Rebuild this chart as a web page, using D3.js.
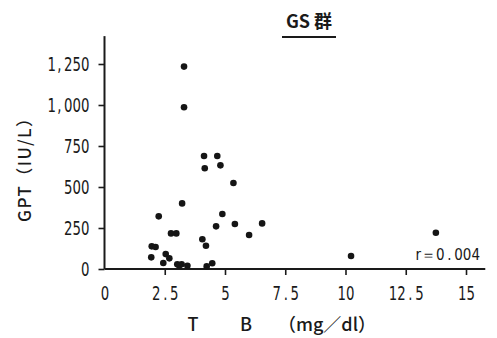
<!DOCTYPE html>
<html>
<head>
<meta charset="utf-8">
<script src="https://cdn.jsdelivr.net/npm/d3@7"></script>
<style>
  body { margin: 0; background: #fff; }
  text { fill: #1a1a1a; }
</style>
</head>
<body>
<div id="chart"></div>
<script>
// values
var tb  = [3.30, 3.30, 4.13, 4.68, 4.16, 4.81, 5.35, 3.22, 2.25, 4.89, 4.63, 5.41, 6.54,
           2.76, 2.98, 6.00, 4.06, 4.21, 1.96, 2.12, 2.54, 2.69, 1.94, 2.44, 3.02, 3.20,
           3.44, 3.10, 4.24, 4.47, 10.23, 13.75];
var gpt = [1234, 986, 689, 689, 614, 632, 524, 400, 321, 335, 260, 274, 278,
           217, 217, 207, 181, 142, 138, 134, 91, 65, 71, 37, 29, 29,
           20, 22, 16, 35, 79, 221];
var xTicks = [0, 2.5, 5, 7.5, 10, 12.5, 15];
var yTicks = [0, 250, 500, 750, 1000, 1250];

var def = { width: 497, height: 338, x0: 104.5, x1: 466, y0: 269, y1: 64, squeeze: 0.74 };
var numFont = '"DejaVu Sans Condensed", "DejaVu Sans", sans-serif';
var jpFont = '"Noto Sans CJK JP", sans-serif';

var svg = d3.select('#chart').append('svg')
    .attr('width', def.width)
    .attr('height', def.height);

var x = d3.scaleLinear().domain([0, 15]).range([def.x0, def.x1]);
var y = d3.scaleLinear().domain([0, 1250]).range([def.y0, def.y1]);

// axes
var xAx = d3.axisBottom(x).tickValues(xTicks).tickSize(6).tickSizeOuter(0)
    .tickFormat(function(d){ return String(d).replace('.', '\u2009.\u2009'); });
var yAx = d3.axisLeft(y).tickValues(yTicks).tickSize(6).tickSizeOuter(0)
    .tickFormat(function(d){ return d3.format(',')(d).replace(',', '\u200a,\u2009'); });

var gx = svg.append('g').attr('transform', 'translate(0,' + def.y0 + ')').call(xAx);
var gy = svg.append('g').attr('transform', 'translate(' + def.x0 + ',0)').call(yAx);

gx.select('.domain').remove();
gy.select('.domain').remove();
gx.selectAll('.tick').filter(function(d){ return d === 0; }).select('line').remove();

svg.selectAll('.tick line').attr('stroke', '#1a1a1a').attr('stroke-width', 1.6);
// tall narrow digits: condensed font squeezed sideways
gx.selectAll('.tick text')
    .attr('y', 17)
    .attr('font-family', numFont)
    .attr('font-size', 20)
    .attr('transform', 'scale(' + def.squeeze + ',1)')
    .attr('fill', '#1a1a1a');
gy.selectAll('.tick text')
    .attr('x', -15 / def.squeeze)
    .attr('font-family', numFont)
    .attr('font-size', 20)
    .attr('transform', 'scale(' + def.squeeze + ',1)')
    .attr('fill', '#1a1a1a');

// axis lines, a bit past the last tick like the original
svg.append('line')
    .attr('x1', def.x0).attr('x2', x(15.8))
    .attr('y1', def.y0).attr('y2', def.y0)
    .attr('stroke', '#1a1a1a').attr('stroke-width', 2);
svg.append('line')
    .attr('x1', def.x0).attr('x2', def.x0)
    .attr('y1', def.y0).attr('y2', y(1420))
    .attr('stroke', '#1a1a1a').attr('stroke-width', 2);

// points
svg.append('g').selectAll('circle')
    .data(tb)
    .enter().append('circle')
    .attr('cx', function(d){ return x(d); })
    .attr('cy', function(d, i){ return y(gpt[i]); })
    .attr('r', 3.3)
    .attr('fill', '#151515');

// title
svg.append('text')
    .attr('x', 309).attr('y', 28)
    .attr('text-anchor', 'middle')
    .attr('font-family', jpFont)
    .attr('font-weight', 700)
    .attr('font-size', 18)
    .text('GS 群');
svg.append('line')
    .attr('x1', 282).attr('x2', 336)
    .attr('y1', 37).attr('y2', 37)
    .attr('stroke', '#1a1a1a').attr('stroke-width', 2);

// y label
svg.append('text')
    .attr('transform', 'translate(31,166) rotate(-90)')
    .attr('text-anchor', 'middle')
    .attr('font-family', jpFont)
    .attr('font-weight', 500)
    .attr('font-size', 17)
    .attr('textLength', 112)
    .text('GPT（IU/L）');

// x label, pieces placed like the original spacing
var xl = [['T', 193], ['B', 246], ['（mg／dl）', 327]];
svg.append('g').selectAll('text')
    .data(xl)
    .enter().append('text')
    .attr('x', function(d){ return d[1]; })
    .attr('y', 331)
    .attr('text-anchor', 'middle')
    .attr('font-family', jpFont)
    .attr('font-weight', 500)
    .attr('font-size', 18)
    .text(function(d){ return d[0]; });

// correlation note
svg.append('text')
    .attr('x', 480).attr('y', 260)
    .attr('text-anchor', 'end')
    .attr('font-family', numFont)
    .attr('font-size', 15)
    .text('r＝0\u2009.\u2009004');
</script>
</body>
</html>
